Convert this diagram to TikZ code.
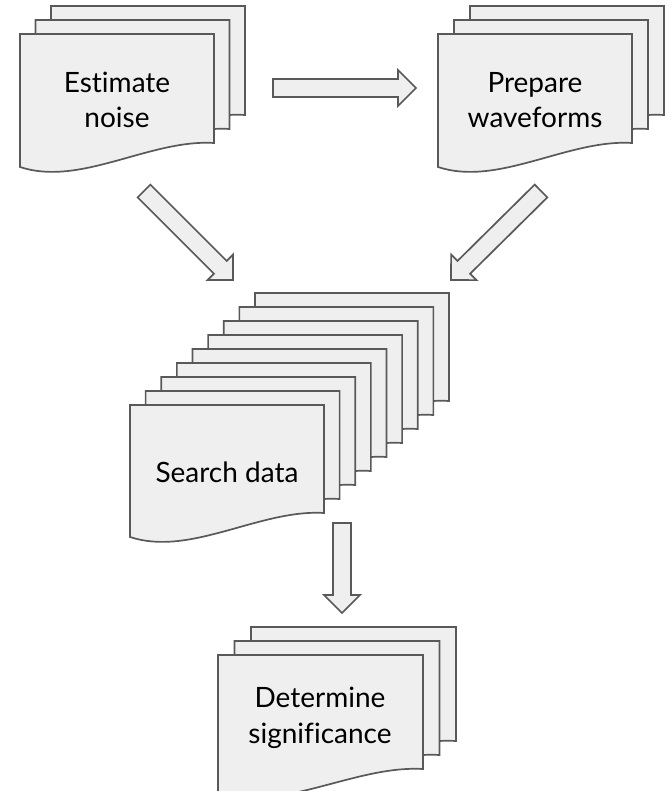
\documentclass[tikz,border=0pt]{standalone}
\usepackage{fontspec}
\setmainfont[Ligatures=NoCommon]{Lato}
\usetikzlibrary{calc}

\definecolor{pagefill}{HTML}{EFEFEF}
\definecolor{pageline}{HTML}{595959}

% one page of a stack: top left corner, width, height of the straight side
\newcommand{\docshape}[4]{%
  \filldraw[doc,shift={(#1,#2)}] (0,0) -- (#3,0) -- (#3,#4)
    .. controls ({0.67*#3},{#4-4}) and ({0.31*#3},{#4+44}) .. (0,{#4+24}) -- cycle;}

% outlined block arrow between two named coordinates
\newcommand{\blockarrow}[2]{%
  \coordinate (hb) at ($(#2)!18pt!(#1)$);
  \filldraw[doc] ($(#1)!9pt!90:(#2)$) -- ($(hb)!9pt!-90:(#1)$) -- ($(hb)!18pt!-90:(#1)$) -- (#2)
    -- ($(hb)!18pt!90:(#1)$) -- ($(hb)!9pt!90:(#1)$) -- ($(#1)!9pt!-90:(#2)$) -- cycle;}

\begin{document}
\begin{tikzpicture}
  [x=1pt,y=-1pt,
   doc/.style={fill=pagefill, draw=pageline, line width=1.7pt, line join=miter},
   txt/.style={align=center, inner sep=0, font=\fontsize{28}{35.5}\selectfont}]
  \useasboundingbox (0,0) rectangle (670,791);

  % stacks, back page first
  \foreach \k in {2,1,0}
    {\docshape{20+15.5*\k}{34-14*\k}{194}{109}}
  \foreach \k in {2,1,0}
    {\docshape{438+16*\k}{34-14*\k}{194}{109}}
  \foreach \k in {8,7,...,0}
    {\docshape{130+15.625*\k}{405-14*\k}{194}{108}}
  \foreach \k in {2,1,0}
    {\docshape{218+16.5*\k}{655-14*\k}{205}{114}}

  \node[txt] (noise)  at (117,100) {Estimate\\noise};
  \node[txt] (wave)   at (535,100) {Prepare\\waveforms};
  \node[txt] (search) at (227,472) {Search data};
  \node[txt] (signif) at (320,718) {Determine\\significance};

  \coordinate (h0) at (273,88);
  \coordinate (h1) at (416,88);
  \coordinate (l0) at (144,191);
  \coordinate (l1) at (233,280);
  \coordinate (r0) at (541,191);
  \coordinate (r1) at (451,280);
  \coordinate (d0) at (342,523);
  \coordinate (d1) at (342,613);

  \foreach \from/\to in {h0/h1,l0/l1,r0/r1,d0/d1}
    {\blockarrow{\from}{\to}}
\end{tikzpicture}
\end{document}
